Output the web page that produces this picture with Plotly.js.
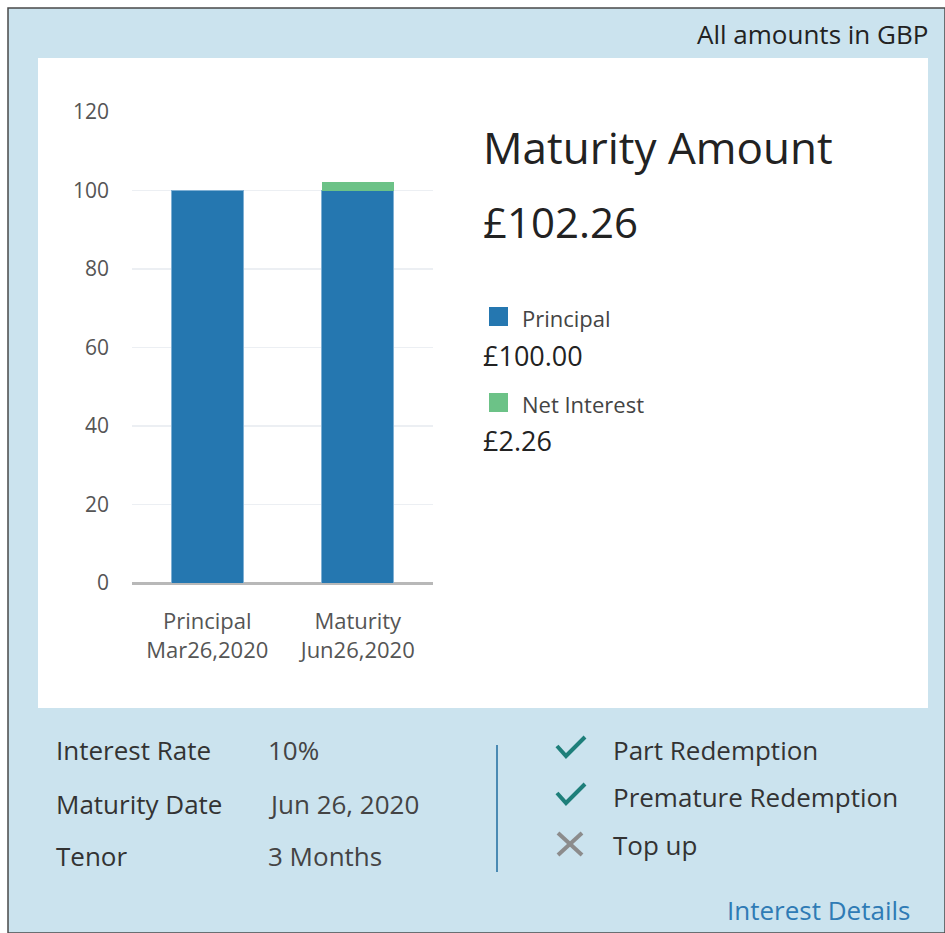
<!DOCTYPE html>
<html><head><meta charset="utf-8">
<script src="https://cdn.plot.ly/plotly-3.0.1.min.js"></script>
<style>html,body{margin:0;padding:0;background:#fff;}#chart{width:945px;height:933px;}</style>
</head><body><div id="chart"></div>
<script>
// ---- data ----
const categories = ["Principal<br>Mar26,2020", "Maturity<br>Jun26,2020"];
const principalValues = [100, 100];
const interestValues = [0, 2.26];
const seriesNames = ["Principal", "Net Interest"];
const yTicks = [0, 20, 40, 60, 80, 100, 120];
const maturityAmount = "£102.26";
const principalAmount = "£100.00";
const interestAmount = "£2.26";
const detailLabels = ["Interest Rate", "Maturity Date", "Tenor"];
const detailValues = ["10%", "Jun 26, 2020", "3 Months"];
const featureLabels = ["Part Redemption", "Premature Redemption", "Top up"];
const featureAvailable = [true, true, false];

// ---- layout helpers (pixel -> paper) ----
const W = 945, H = 933;
const PL = 132, PR = 433, PT = 112, PB = 583;
const X = px => (px - PL) / (PR - PL);
const Y = py => (PB - py) / (PB - PT);
const FONT = '"Segoe UI", "Open Sans", "Noto Sans", sans-serif';

const BLUE = '#2577b0', GREEN = '#6cc287';

const traces = [
  {type:'bar', x:categories, y:principalValues, name:seriesNames[0], marker:{color:BLUE, line:{color:'#7fb0d4', width:1}}, width:0.48, hoverinfo:'y'},
  {type:'bar', x:categories, y:interestValues, name:seriesNames[1], marker:{color:GREEN, line:{width:0}}, width:0.48, hoverinfo:'y'}
];

const shapes = [];
const annotations = [];
function rect(x0,y0,x1,y1,fill,line){shapes.push({type:'rect',xref:'paper',yref:'paper',x0:X(x0),x1:X(x1),y0:Y(y1),y1:Y(y0),fillcolor:fill,line:line||{width:0},layer:'below'});}
function seg(pts,color,w,layer){let d='M'+pts.map(p=>X(p[0])+','+Y(p[1])).join(' L');shapes.push({type:'path',xref:'paper',yref:'paper',path:d,line:{color:color,width:w},layer:layer||'above'});}
function txt(x,y,t,size,color,anchor){annotations.push({xref:'paper',yref:'paper',x:X(x),y:Y(y),text:t,showarrow:false,xanchor:anchor||'left',yanchor:'middle',font:{family:FONT,size:size,color:color}});}

// backgrounds
rect(8,8,945,933,'#cbe3ee',{color:'#4a4a4a',width:1.5});
rect(38,58,928,708,'#ffffff');

txt(930,34,'All amounts in GBP',26,'#222','right');

// right-hand summary
txt(481,147,'Maturity Amount',44,'#222');
txt(481,222,maturityAmount,42,'#222');
rect(489,307,508,326,BLUE);
txt(520,318,seriesNames[0],22,'#444');
txt(481,355,principalAmount,27,'#222');
rect(489,393,508,412,GREEN);
txt(520,404,seriesNames[1],22,'#444');
txt(481,440,interestAmount,27,'#222');

// details
const rowY = [750, 804, 856];
detailLabels.forEach((l,i)=>{txt(54,rowY[i],l,26,'#333');txt(266,rowY[i],detailValues[i],26,'#444');});
seg([[497,745],[497,872]],'#4a8ab3',2);

const featY = [750, 797, 845];
featureLabels.forEach((l,i)=>{
  const cy = featY[i];
  if(featureAvailable[i]){
    seg([[557,cy-4],[566,cy+6],[585,cy-13]],'#1e7f7a',4);
  } else {
    seg([[558,cy-12],[582,cy+10]],'#8c8c8c',4);
    seg([[582,cy-12],[558,cy+10]],'#8c8c8c',4);
  }
  txt(611,cy,l,26,'#333');
});
txt(912,910,'Interest Details',26,'#2f7bb5','right');

const layout = {
  width:W, height:H,
  margin:{l:PL, r:W-PR, t:PT, b:H-PB, pad:0},
  paper_bgcolor:'#ffffff', plot_bgcolor:'rgba(0,0,0,0)',
  barmode:'stack', showlegend:false,
  font:{family:FONT},
  xaxis:{type:'category', range:[-0.5,1.5], showgrid:false, showline:false, zeroline:false, ticks:'',
         tickfont:{family:FONT,size:22,color:'#555'}, ticklabelstandoff:23, fixedrange:true},
  yaxis:{range:[0,120], tickvals:yTicks, showgrid:true, gridcolor:'#eceff3', gridwidth:1.5,
         zeroline:true, zerolinecolor:'#b8b8b8', zerolinewidth:3, showline:false, ticks:'',
         tickfont:{family:FONT,size:21,color:'#555'}, ticklabelstandoff:22, fixedrange:true},
  shapes:shapes, annotations:annotations
};
Plotly.newPlot('chart', traces, layout, {displayModeBar:false, staticPlot:true});
</script></body></html>
